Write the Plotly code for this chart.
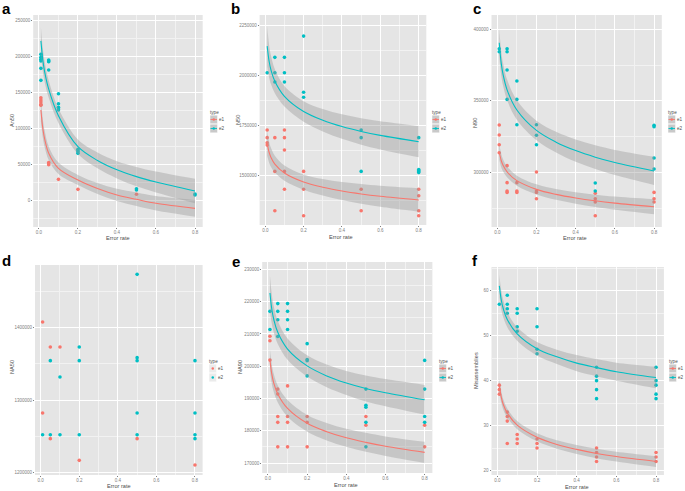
import plotly.graph_objects as go

W, H = 685, 491
RED = "#F8766D"
TEAL = "#00BFC4"

# ---------- data ----------
# a: An50
a_e1_x = [0.01, 0.01, 0.01, 0.01, 0.01, 0.05, 0.05, 0.05, 0.1, 0.2, 0.5]
a_e1_y = [143000, 140000, 137000, 134000, 132500, 53000, 51000, 50000, 29700, 15800, 8900]
a_e2_x = [0.01, 0.01, 0.01, 0.01, 0.01, 0.01, 0.05, 0.05, 0.05, 0.05,
          0.1, 0.1, 0.1, 0.1, 0.1, 0.2, 0.2, 0.2, 0.2, 0.5, 0.5, 0.8, 0.8]
a_e2_y = [203400, 199200, 196400, 194000, 183900, 167200, 195400, 194000, 193000, 181500,
          148600, 134700, 129700, 127400, 126000, 71400, 69400, 68000, 65800, 16700, 14900, 9300, 7900]

# b: N50
b_e1_x = [0.01, 0.01, 0.01, 0.01, 0.05, 0.05, 0.05, 0.1, 0.1, 0.1, 0.1, 0.1,
          0.2, 0.2, 0.2, 0.5, 0.5, 0.8, 0.8, 0.8, 0.8]
b_e1_y = [1727000, 1689000, 1664000, 1652000, 1689000, 1521000, 1325000,
          1727000, 1689000, 1627500, 1521000, 1432000, 1521000, 1432000, 1300000,
          1432000, 1325000, 1432000, 1400000, 1325000, 1300000]
b_e2_x = [0.01, 0.05, 0.05, 0.05, 0.1, 0.1, 0.1, 0.2, 0.2, 0.2,
          0.5, 0.5, 0.5, 0.8, 0.8, 0.8, 0.8, 0.8]
b_e2_y = [2012000, 2089000, 2012000, 1966000, 2089000, 2012000, 1966000,
          2195000, 1915000, 1890000, 1727000, 1689000, 1521000,
          1689000, 1530000, 1525000, 1520000, 1515000]

# c: N90
c_e1_x = [0.01, 0.01, 0.01, 0.01, 0.05, 0.05, 0.05, 0.05, 0.1, 0.1, 0.1,
          0.2, 0.2, 0.2, 0.2, 0.5, 0.5, 0.5, 0.5, 0.8, 0.8, 0.8]
c_e1_y = [333100, 326100, 319300, 313700, 304700, 292800, 287000, 286000,
          292800, 287000, 286000, 300200, 287000, 286000, 281600,
          285400, 281600, 279300, 269700, 286000, 281600, 279300]
c_e2_x = [0.01, 0.01, 0.05, 0.05, 0.05, 0.05, 0.1, 0.1, 0.1, 0.2, 0.2, 0.2,
          0.5, 0.5, 0.8, 0.8, 0.8, 0.8]
c_e2_y = [386400, 384300, 386400, 384300, 371500, 351000, 363900, 351000, 333300,
          333300, 325900, 319300, 292600, 287000, 332900, 331900, 310000, 302300]

# d: NA50 (points only)
d_e1_x = [0.01, 0.01, 0.05, 0.05, 0.1, 0.2, 0.5, 0.8]
d_e1_y = [1407800, 1282300, 1373300, 1246900, 1373300, 1217000, 1246900, 1210600]
d_e2_x = [0.01, 0.05, 0.05, 0.1, 0.1, 0.2, 0.2, 0.2, 0.5, 0.5, 0.5, 0.5, 0.5,
          0.8, 0.8, 0.8, 0.8]
d_e2_y = [1252400, 1354500, 1252400, 1332000, 1252400, 1373300, 1354500, 1252400,
          1473500, 1358600, 1354500, 1282300, 1252400, 1354500, 1282300, 1252400, 1246900]

# e: NA90
e_e1_x = [0.01, 0.01, 0.01, 0.05, 0.05, 0.05, 0.05, 0.05, 0.1, 0.1, 0.1, 0.1,
          0.2, 0.2, 0.2, 0.5, 0.5, 0.8, 0.8]
e_e1_y = [209300, 207900, 201900, 192900, 191400, 184400, 182600, 175000,
          193900, 184400, 182600, 175000, 184400, 182600, 175000,
          184400, 181700, 181700, 175000]
e_e2_x = [0.01, 0.01, 0.05, 0.05, 0.05, 0.05, 0.1, 0.1, 0.1, 0.1,
          0.2, 0.2, 0.2, 0.2, 0.5, 0.5, 0.5, 0.5, 0.5, 0.8, 0.8, 0.8, 0.8]
e_e2_y = [217000, 211400, 219400, 217000, 214400, 209200, 219400, 217000, 214400, 211400,
          207000, 202100, 201700, 197000, 192900, 187900, 187300, 182600, 175000,
          201800, 192900, 184400, 182600]

# f: Misassemblies
f_e1_x = [0.01, 0.01, 0.01, 0.05, 0.05, 0.05, 0.05, 0.1, 0.1, 0.1,
          0.2, 0.2, 0.2, 0.5, 0.5, 0.5, 0.5, 0.8, 0.8, 0.8]
f_e1_y = [39, 38, 37, 33, 32, 31, 26, 28, 27, 26, 27, 26, 25, 25, 24, 23, 22, 24, 23, 22]
f_e2_x = [0.01, 0.05, 0.05, 0.05, 0.05, 0.1, 0.1, 0.1, 0.1, 0.2, 0.2, 0.2, 0.2,
          0.5, 0.5, 0.5, 0.5, 0.5, 0.8, 0.8, 0.8, 0.8, 0.8]
f_e2_y = [57, 59, 57, 56, 55, 56, 55, 52, 51, 56, 52, 47, 46,
          43, 41, 40, 38, 36, 43, 40, 39, 37, 36]

# smoother (fitted line and half-width of its grey band) read at these error rates
fit_x = [0.01, 0.02, 0.03, 0.05, 0.1, 0.2, 0.3, 0.4, 0.5, 0.6, 0.8]

a_e1_fit = [126000, 100000, 85000, 66000, 45000, 28800, 17000, 8000, 2000, -3600, -10600]
a_e1_hw = [16000, 13000, 11500, 9500, 8000, 7000, 7500, 8500, 9500, 10000, 11500]
a_e2_fit = [222000, 195000, 178000, 155000, 118000, 75000, 56000, 43000, 33500, 26000, 13500]
a_e2_hw = [19500, 16000, 14000, 12000, 10000, 10000, 11000, 12000, 13500, 14500, 17000]

b_e1_fit = [1661000, 1616400, 1590100, 1557300, 1512700, 1467800, 1441800, 1423100, 1408700, 1397100, 1378500]
b_e1_hw = [62000, 52000, 47000, 42000, 38000, 38000, 41000, 45000, 49000, 52000, 58000]
b_e2_fit = [2145000, 2069800, 2025500, 1970300, 1895100, 1819400, 1775600, 1744200, 1719900, 1700400, 1669000]
b_e2_hw = [100000, 81000, 71000, 60000, 51000, 51000, 56000, 61000, 66000, 70000, 78000]

c_e1_fit = [314400, 308300, 304800, 300300, 294200, 288100, 284600, 282100, 280100, 278500, 276000]
c_e1_hw = [5600, 4700, 4200, 3800, 3500, 3500, 3700, 4000, 4300, 4600, 5200]
c_e2_fit = [390600, 376400, 368100, 357700, 343600, 329300, 321100, 315200, 310600, 306900, 301000]
c_e2_hw = [10000, 8500, 7800, 7200, 6800, 6800, 7200, 7800, 8300, 8800, 9900]

e_e1_fit = [201900, 197400, 194700, 191400, 186900, 182300, 179700, 177800, 176400, 175200, 173300]
e_e1_hw = [3300, 3000, 2800, 2650, 2600, 2600, 2700, 2800, 2950, 3050, 3300]
e_e2_fit = [222700, 217500, 214400, 210500, 205300, 200100, 197000, 194800, 193100, 191800, 189600]
e_e2_hw = [5400, 4500, 4000, 3600, 3300, 3300, 3500, 3700, 4000, 4200, 4600]

f_e1_fit = [39.0, 36.3, 34.7, 32.8, 30.1, 27.4, 25.8, 24.7, 23.8, 23.1, 22.0]
f_e1_hw = [1.5, 1.3, 1.15, 1.0, 0.9, 0.9, 0.95, 1.0, 1.05, 1.1, 1.2]
f_e2_fit = [61.1, 57.9, 56.0, 53.6, 50.4, 47.1, 45.3, 43.9, 42.9, 42.0, 40.7]
f_e2_hw = [2.5, 2.1, 1.9, 1.7, 1.5, 1.5, 1.6, 1.8, 1.9, 2.0, 2.4]

# ---------- panel layout (pixels) ----------
panels = [
    dict(tag="a", ylab="An50", e1=(a_e1_x, a_e1_y), e2=(a_e2_x, a_e2_y),
         fit=((a_e1_fit, a_e1_hw), (a_e2_fit, a_e2_hw)),
         px=(33.2, 202.7), py=(15, 227), yr=(-36500, 258000), dt=50000,
         letter=(6, 8.5), ytitle=(12, 121), xtitle=(118, 238), leg=(209, 112)),
    dict(tag="b", ylab="N50", e1=(b_e1_x, b_e1_y), e2=(b_e2_x, b_e2_y),
         fit=((b_e1_fit, b_e1_hw), (b_e2_fit, b_e2_hw)),
         px=(259.6, 426.3), py=(15, 225), yr=(1254000, 2300000), dt=250000,
         letter=(235.5, 8.5), ytitle=(238, 120), xtitle=(341, 237), leg=(431, 112)),
    dict(tag="c", ylab="N90", e1=(c_e1_x, c_e1_y), e2=(c_e2_x, c_e2_y),
         fit=((c_e1_fit, c_e1_hw), (c_e2_fit, c_e2_hw)),
         px=(491.5, 661.8), py=(15, 227), yr=(261800, 410000), dt=50000,
         letter=(476.5, 9), ytitle=(475, 123), xtitle=(575, 238), leg=(667, 112)),
    dict(tag="d", ylab="NA50", e1=(d_e1_x, d_e1_y), e2=(d_e2_x, d_e2_y), fit=None,
         px=(35.0, 202.6), py=(265, 475), yr=(1196800, 1486400), dt=100000,
         letter=(6.5, 260), ytitle=(12, 367), xtitle=(119, 486), leg=(208, 361)),
    dict(tag="e", ylab="NA90", e1=(e_e1_x, e_e1_y), e2=(e_e2_x, e_e2_y),
         fit=((e_e1_fit, e_e1_hw), (e_e2_fit, e_e2_hw)),
         px=(262.2, 432.4), py=(262, 473), yr=(166900, 232300), dt=10000,
         letter=(235.5, 261), ytitle=(240, 367), xtitle=(346, 485), leg=(438, 361)),
    dict(tag="f", ylab="Misassemblies", e1=(f_e1_x, f_e1_y), e2=(f_e2_x, f_e2_y),
         fit=((f_e1_fit, f_e1_hw), (f_e2_fit, f_e2_hw)),
         px=(491.5, 663.9), py=(267, 475), yr=(19.0, 65.3), dt=10,
         letter=(475, 260), ytitle=(476, 371), xtitle=(577, 487), leg=(668, 361)),
]


def fx(p):
    return p / W


def fy(p):
    return 1 - p / H


fig = go.Figure()
shapes = []
annots = []
TXT = "#4D4D4D"

for i, p in enumerate(panels, start=1):
    xa = "x" if i == 1 else f"x{i}"
    ya = "y" if i == 1 else f"y{i}"
    sfx = "" if i == 1 else str(i)

    for key, col in (("e1", RED), ("e2", TEAL)):
        xs, ys = p[key]
        fig.add_trace(go.Scatter(x=xs, y=ys, mode="markers", xaxis=xa, yaxis=ya,
                                 marker=dict(color=col, size=3.6), showlegend=False,
                                 hoverinfo="skip"))
    if p["fit"]:
        for (m, hw), col in zip(p["fit"], (RED, TEAL)):
            lo = [v - h for v, h in zip(m, hw)]
            hi = [v + h for v, h in zip(m, hw)]
            fig.add_trace(go.Scatter(x=fit_x, y=lo, mode="lines", line=dict(width=0, shape="spline"),
                                     xaxis=xa, yaxis=ya, showlegend=False, hoverinfo="skip"))
            fig.add_trace(go.Scatter(x=fit_x, y=hi, mode="lines", line=dict(width=0, shape="spline"),
                                     fill="tonexty", fillcolor="rgba(153,153,153,0.4)",
                                     xaxis=xa, yaxis=ya, showlegend=False, hoverinfo="skip"))
            fig.add_trace(go.Scatter(x=fit_x, y=m, mode="lines",
                                     line=dict(color=col, width=1.1, shape="spline"),
                                     xaxis=xa, yaxis=ya, showlegend=False, hoverinfo="skip"))

    axis_common = dict(showgrid=True, gridcolor="white", gridwidth=0.9, zeroline=False,
                       showline=False, ticks="outside", ticklen=1, tickwidth=0.6,
                       tickcolor="#7F7F7F", tickfont=dict(size=4.5, color="#808080"),
                       automargin=False)
    fig.layout["xaxis" + sfx] = dict(
        domain=[fx(p["px"][0]), fx(p["px"][1])], anchor=ya, range=[-0.0295, 0.8395],
        dtick=0.2, tick0=0, tickformat=".1f",
        minor=dict(dtick=0.1, tick0=0, showgrid=True, gridcolor="#F2F2F2", gridwidth=0.5),
        **axis_common)
    fig.layout["yaxis" + sfx] = dict(
        domain=[fy(p["py"][1]), fy(p["py"][0])], anchor=xa, range=list(p["yr"]),
        dtick=p["dt"], tick0=0, tickformat="d",
        minor=dict(dtick=p["dt"] / 2, tick0=0, showgrid=True, gridcolor="#F2F2F2", gridwidth=0.5),
        **axis_common)

    # panel letter and axis titles
    annots.append(dict(text="<b>" + p["tag"] + "</b>", x=fx(p["letter"][0]), y=fy(p["letter"][1]),
                       xref="paper", yref="paper", showarrow=False,
                       font=dict(size=15, color="black", family="Liberation Sans, Arial"),
                       xanchor="center", yanchor="middle"))
    annots.append(dict(text="Error rate", x=fx(p["xtitle"][0]), y=fy(p["xtitle"][1]),
                       xref="paper", yref="paper", showarrow=False, borderpad=0,
                       font=dict(size=5.6, color=TXT), xanchor="center", yanchor="middle"))
    annots.append(dict(text=p["ylab"], x=fx(p["ytitle"][0]), y=fy(p["ytitle"][1]),
                       xref="paper", yref="paper", showarrow=False, textangle=-90, borderpad=0,
                       font=dict(size=5.6, color=TXT), xanchor="center", yanchor="middle"))

    # legend (ggplot style keys)
    lx, ly = p["leg"]
    annots.append(dict(text="type", x=fx(lx), y=fy(ly), xref="paper", yref="paper",
                       showarrow=False, borderpad=0, font=dict(size=4.6, color=TXT),
                       xanchor="left", yanchor="middle"))
    for k, (lab, col) in enumerate((("e1", RED), ("e2", TEAL))):
        cy = ly + 7.5 + 9 * k
        shapes.append(dict(type="rect", xref="paper", yref="paper",
                           x0=fx(lx + 1), x1=fx(lx + 8.5), y0=fy(cy - 4.3), y1=fy(cy + 4.3),
                           fillcolor="#C9C9C9" if p["fit"] else "#EBEBEB",
                           line=dict(width=0.5, color="white")))
        if p["fit"]:
            shapes.append(dict(type="line", xref="paper", yref="paper",
                               x0=fx(lx + 1.5), x1=fx(lx + 8), y0=fy(cy), y1=fy(cy),
                               line=dict(color=col, width=0.9)))
        shapes.append(dict(type="circle", xref="paper", yref="paper",
                           x0=fx(lx + 3.5), x1=fx(lx + 6), y0=fy(cy - 1.25), y1=fy(cy + 1.25),
                           fillcolor=col, line=dict(width=0)))
        annots.append(dict(text=lab, x=fx(lx + 9), y=fy(cy), xref="paper", yref="paper",
                           showarrow=False, borderpad=0, font=dict(size=4.6, color=TXT),
                           xanchor="left", yanchor="middle"))

fig.update_layout(
    width=W, height=H,
    margin=dict(l=0, r=0, t=0, b=0),
    paper_bgcolor="white",
    plot_bgcolor="#E5E5E5",
    font=dict(family="Liberation Sans, Arial, sans-serif"),
    showlegend=False,
    shapes=shapes,
    annotations=annots,
)

# drop the page's default body margin so the 685x491 figure fills the window exactly
fig.write_html("out.html", config={"displayModeBar": False},
               post_script="document.body.style.margin='0';document.body.style.overflow='hidden';")
